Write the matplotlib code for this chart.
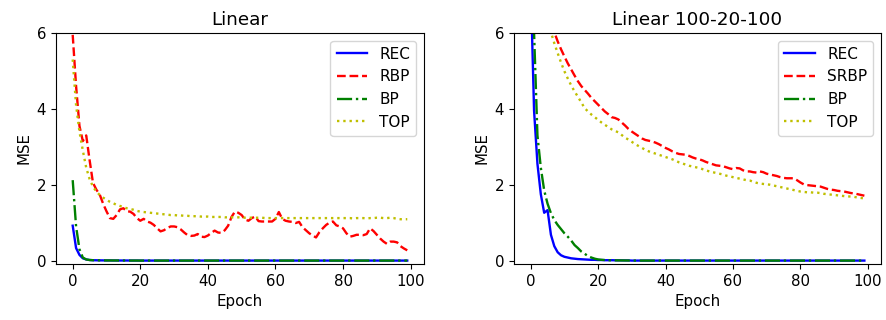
import matplotlib
matplotlib.use("Agg")
import matplotlib.pyplot as plt
import numpy as np

epochs = list(range(100))

titles = ["Linear", "Linear 100-20-100"]
labels_left = ["REC", "RBP", "BP", "TOP"]
labels_right = ["REC", "SRBP", "BP", "TOP"]
x_ticks = [0, 20, 40, 60, 80, 100]
y_ticks = [0, 2, 4, 6]

left_rec = [
    0.92, 0.33, 0.15, 0.06, 0.03, 0.015, 0.01, 0.008, 0.006, 0.005,
    0.004, 0.004, 0.003, 0.003, 0.002, 0.002, 0.002, 0.001, 0.001, 0.001,
    0.0, 0.0, 0.0, 0.0, 0.0, 0.0, 0.0, 0.0, 0.0, 0.0,
    0.0, 0.0, 0.0, 0.0, 0.0, 0.0, 0.0, 0.0, 0.0, 0.0,
    0.0, 0.0, 0.0, 0.0, 0.0, 0.0, 0.0, 0.0, 0.0, 0.0,
    0.0, 0.0, 0.0, 0.0, 0.0, 0.0, 0.0, 0.0, 0.0, 0.0,
    0.0, 0.0, 0.0, 0.0, 0.0, 0.0, 0.0, 0.0, 0.0, 0.0,
    0.0, 0.0, 0.0, 0.0, 0.0, 0.0, 0.0, 0.0, 0.0, 0.0,
    0.0, 0.0, 0.0, 0.0, 0.0, 0.0, 0.0, 0.0, 0.0, 0.0,
    0.0, 0.0, 0.0, 0.0, 0.0, 0.0, 0.0, 0.0, 0.0, 0.0,
]
left_rbp = [
    5.95, 4.6, 3.55, 3.15, 3.3, 2.65, 2.05, 1.87, 1.74, 1.5,
    1.3, 1.12, 1.1, 1.2, 1.35, 1.38, 1.3, 1.29, 1.23, 1.12,
    1.05, 1.1, 1.03, 1.0, 0.94, 0.85, 0.77, 0.8, 0.86, 0.9,
    0.9, 0.88, 0.82, 0.74, 0.67, 0.65, 0.66, 0.7, 0.63, 0.62,
    0.66, 0.73, 0.79, 0.74, 0.73, 0.8, 0.92, 1.15, 1.29, 1.26,
    1.2, 1.08, 1.05, 1.12, 1.16, 1.04, 1.03, 1.03, 1.03, 1.03,
    1.1, 1.28, 1.1, 1.05, 1.03, 1.02, 0.99, 1.02, 0.88, 0.8,
    0.72, 0.66, 0.61, 0.75, 0.85, 0.94, 1.0, 1.03, 0.93, 0.9,
    0.85, 0.72, 0.63, 0.65, 0.68, 0.68, 0.67, 0.7, 0.85, 0.78,
    0.68, 0.58, 0.5, 0.44, 0.5, 0.5, 0.48, 0.38, 0.32, 0.27,
]
left_bp = [
    2.12, 0.9, 0.3, 0.08, 0.03, 0.015, 0.01, 0.008, 0.006, 0.005,
    0.004, 0.004, 0.003, 0.003, 0.002, 0.002, 0.002, 0.001, 0.001, 0.001,
    0.0, 0.0, 0.0, 0.0, 0.0, 0.0, 0.0, 0.0, 0.0, 0.0,
    0.0, 0.0, 0.0, 0.0, 0.0, 0.0, 0.0, 0.0, 0.0, 0.0,
    0.0, 0.0, 0.0, 0.0, 0.0, 0.0, 0.0, 0.0, 0.0, 0.0,
    0.0, 0.0, 0.0, 0.0, 0.0, 0.0, 0.0, 0.0, 0.0, 0.0,
    0.0, 0.0, 0.0, 0.0, 0.0, 0.0, 0.0, 0.0, 0.0, 0.0,
    0.0, 0.0, 0.0, 0.0, 0.0, 0.0, 0.0, 0.0, 0.0, 0.0,
    0.0, 0.0, 0.0, 0.0, 0.0, 0.0, 0.0, 0.0, 0.0, 0.0,
    0.0, 0.0, 0.0, 0.0, 0.0, 0.0, 0.0, 0.0, 0.0, 0.0,
]
left_top = [
    5.3, 4.1, 3.4, 2.9, 2.45, 2.15, 1.95, 1.82, 1.73, 1.66,
    1.6, 1.55, 1.51, 1.47, 1.44, 1.41, 1.38, 1.36, 1.34, 1.31,
    1.29, 1.28, 1.27, 1.26, 1.25, 1.24, 1.23, 1.22, 1.21, 1.2,
    1.2, 1.19, 1.19, 1.18, 1.18, 1.17, 1.17, 1.17, 1.16, 1.16,
    1.16, 1.15, 1.15, 1.15, 1.15, 1.14, 1.14, 1.14, 1.14, 1.14,
    1.13, 1.13, 1.13, 1.13, 1.13, 1.13, 1.13, 1.12, 1.12, 1.12,
    1.12, 1.12, 1.12, 1.12, 1.12, 1.12, 1.12, 1.12, 1.12, 1.12,
    1.12, 1.12, 1.12, 1.12, 1.12, 1.12, 1.12, 1.12, 1.12, 1.12,
    1.12, 1.12, 1.12, 1.11, 1.12, 1.12, 1.12, 1.11, 1.12, 1.12,
    1.13, 1.13, 1.12, 1.12, 1.13, 1.12, 1.1, 1.09, 1.09, 1.09,
]

right_rec = [
    7.3, 3.95, 2.55, 1.75, 1.26, 1.33, 0.68, 0.38, 0.22, 0.14,
    0.1, 0.08, 0.06, 0.05, 0.04, 0.035, 0.03, 0.025, 0.02, 0.02,
    0.015, 0.015, 0.01, 0.01, 0.01, 0.008, 0.007, 0.006, 0.005, 0.005,
    0.0, 0.0, 0.0, 0.0, 0.0, 0.0, 0.0, 0.0, 0.0, 0.0,
    0.0, 0.0, 0.0, 0.0, 0.0, 0.0, 0.0, 0.0, 0.0, 0.0,
    0.0, 0.0, 0.0, 0.0, 0.0, 0.0, 0.0, 0.0, 0.0, 0.0,
    0.0, 0.0, 0.0, 0.0, 0.0, 0.0, 0.0, 0.0, 0.0, 0.0,
    0.0, 0.0, 0.0, 0.0, 0.0, 0.0, 0.0, 0.0, 0.0, 0.0,
    0.0, 0.0, 0.0, 0.0, 0.0, 0.0, 0.0, 0.0, 0.0, 0.0,
    0.0, 0.0, 0.0, 0.0, 0.0, 0.0, 0.0, 0.0, 0.0, 0.0,
]
right_srbp = [
    11.0, 9.8, 8.9, 8.1, 7.4, 6.9, 6.4, 6.02, 5.78, 5.57,
    5.38, 5.2, 5.04, 4.88, 4.73, 4.6, 4.5, 4.4, 4.29, 4.2,
    4.11, 4.02, 3.93, 3.86, 3.78, 3.76, 3.72, 3.64, 3.56, 3.47,
    3.4, 3.34, 3.28, 3.22, 3.18, 3.16, 3.14, 3.11, 3.07, 3.02,
    2.97, 2.93, 2.88, 2.84, 2.81, 2.8, 2.79, 2.76, 2.72, 2.69,
    2.67, 2.64, 2.6, 2.57, 2.54, 2.51, 2.5, 2.49, 2.46, 2.43,
    2.41, 2.44, 2.43, 2.38, 2.35, 2.35, 2.33, 2.32, 2.35, 2.33,
    2.29, 2.27, 2.25, 2.23, 2.2, 2.18, 2.17, 2.17, 2.17, 2.12,
    2.06, 2.01, 1.99, 1.98, 1.97, 1.96, 1.95, 1.92, 1.89, 1.87,
    1.86, 1.84, 1.83, 1.82, 1.8, 1.78, 1.77, 1.75, 1.73, 1.71,
]
right_bp = [
    8.5, 6.0, 3.3, 2.45, 1.85, 1.5, 1.25, 1.07, 0.94, 0.83,
    0.72, 0.63, 0.53, 0.41, 0.33, 0.24, 0.18, 0.12, 0.08, 0.05,
    0.03, 0.02, 0.015, 0.01, 0.008, 0.006, 0.005, 0.004, 0.003, 0.002,
    0.0, 0.0, 0.0, 0.0, 0.0, 0.0, 0.0, 0.0, 0.0, 0.0,
    0.0, 0.0, 0.0, 0.0, 0.0, 0.0, 0.0, 0.0, 0.0, 0.0,
    0.0, 0.0, 0.0, 0.0, 0.0, 0.0, 0.0, 0.0, 0.0, 0.0,
    0.0, 0.0, 0.0, 0.0, 0.0, 0.0, 0.0, 0.0, 0.0, 0.0,
    0.0, 0.0, 0.0, 0.0, 0.0, 0.0, 0.0, 0.0, 0.0, 0.0,
    0.0, 0.0, 0.0, 0.0, 0.0, 0.0, 0.0, 0.0, 0.0, 0.0,
    0.0, 0.0, 0.0, 0.0, 0.0, 0.0, 0.0, 0.0, 0.0, 0.0,
]
right_top = [
    10.0, 9.0, 8.2, 7.5, 6.9, 6.4, 6.02, 5.73, 5.47, 5.22,
    4.99, 4.8, 4.62, 4.46, 4.32, 4.17, 4.02, 3.93, 3.85, 3.78,
    3.71, 3.64, 3.58, 3.52, 3.46, 3.42, 3.38, 3.31, 3.24, 3.19,
    3.13, 3.07, 3.02, 2.97, 2.92, 2.88, 2.85, 2.82, 2.79, 2.76,
    2.73, 2.7, 2.67, 2.63, 2.59, 2.56, 2.53, 2.5, 2.48, 2.46,
    2.44, 2.41, 2.38, 2.35, 2.33, 2.31, 2.29, 2.27, 2.24, 2.22,
    2.2, 2.18, 2.16, 2.14, 2.12, 2.11, 2.08, 2.05, 2.03, 2.02,
    2.01, 2.0, 1.98, 1.96, 1.94, 1.92, 1.9, 1.88, 1.86, 1.84,
    1.82, 1.81, 1.8, 1.8, 1.79, 1.79, 1.78, 1.76, 1.75, 1.74,
    1.73, 1.72, 1.71, 1.7, 1.69, 1.69, 1.68, 1.66, 1.65, 1.64,
]

colors = ["b", "r", "g", "y"]
styles = ["-", "--", "-.", ":"]

FS = 10.8
plt.rcParams["font.family"] = ["DejaVu Sans"]

fig = plt.figure(figsize=(8.87, 3.2), dpi=100)
ax1 = fig.add_axes([0.0631, 0.175, 0.4149, 0.722])
ax2 = fig.add_axes([0.5795, 0.175, 0.4138, 0.722])

panels = [
    (ax1, titles[0], labels_left, [left_rec, left_rbp, left_bp, left_top]),
    (ax2, titles[1], labels_right, [right_rec, right_srbp, right_bp, right_top]),
]

for ax, title, labels, series in panels:
    for vals, lab, c, ls in zip(series, labels, colors, styles):
        ax.plot(epochs, vals, color=c, linestyle=ls, linewidth=1.7, label=lab)
    ax.set_ylim(-0.09, 6)
    ax.set_xlim(-4.95, 103.95)
    ax.set_xticks(x_ticks)
    ax.set_yticks(y_ticks)
    ax.tick_params(labelsize=FS)
    ax.set_xlabel("Epoch", fontsize=FS)
    ax.set_ylabel("MSE", fontsize=FS)
    ax.set_title(title, fontsize=13.2)
    ax.legend(loc="upper right", fontsize=11)

fig.savefig("out.png", dpi=100)
